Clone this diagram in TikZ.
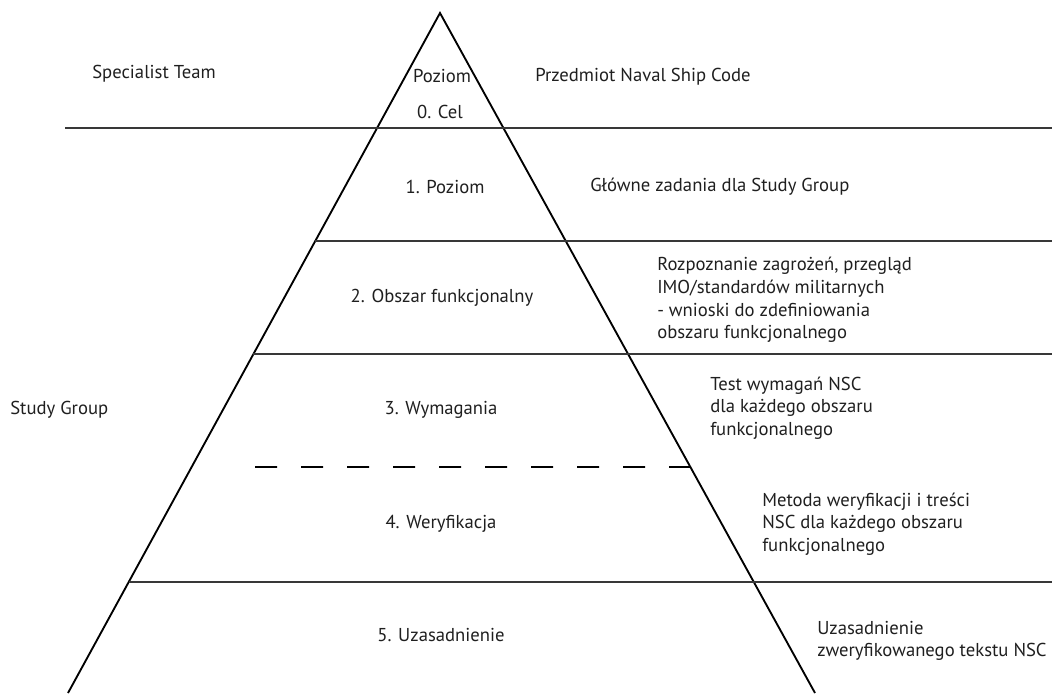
\documentclass[tikz,border=0pt]{standalone}
\usepackage{fontspec}
\setmainfont{PT Sans}
\usetikzlibrary{calc}
\begin{document}
\begin{tikzpicture}[x=0.75pt,y=-0.75pt,
  lbl/.style={inner sep=0pt, font=\fontsize{14}{17}\selectfont, text=black!88},
  lft/.style={lbl, anchor=west, align=left},
  ctr/.style={lbl, anchor=center},
  pedge/.style={line width=1.4pt, black},
  band/.style={line width=1.7pt, black!78},
  dashline/.style={line width=1.4pt, black, dash pattern=on 16.5pt off 18pt}]
\useasboundingbox (0,0) rectangle (1052,693);
\begin{scope}
\clip (0,0) rectangle (1052,693);
\coordinate (apex) at (440,13);
\coordinate (bl) at (68,693);
\coordinate (br) at (815,693);
\coordinate (l1) at ($(apex)!{(241-13)/680}!(bl)$);
\coordinate (l2) at ($(apex)!{(354-13)/680}!(bl)$);
\coordinate (l4) at ($(apex)!{(582-13)/680}!(bl)$);
\coordinate (rd) at ($(apex)!{(467-13)/680}!(br)$);
\coordinate (r0) at (1052,128);
\coordinate (s0) at (65,128);
\coordinate (d0) at (255,467);
\draw[pedge] (bl) -- (apex) -- (br);
\draw[band] (s0) -- (r0);
\draw[band] (l1) -- (l1 -| r0);
\draw[band] (l2) -- (l2 -| r0);
\draw[band] (l4) -- (l4 -| r0);
\draw[dashline] (d0) -- (rd);
\end{scope}
% left labels
\node[lft] (st) at (92,74) {Specialist Team};
\node[lft] (sg) at (10,410) {Study Group};
% pyramid labels
\node[ctr] (p0a) at (442,76) {Poziom};
\node[ctr] (p0b) at (440,112) {0. Cel};
\node[ctr] (p1) at (445,187) {1. Poziom};
\node[ctr] (p2) at (442,298) {2. Obszar funkcjonalny};
\node[ctr] (p3) at (441,410) {3. Wymagania};
\node[ctr] (p4) at (441,524) {4. Weryfikacja};
\node[ctr] (p5) at (441,635) {5. Uzasadnienie};
% right labels
\node[lft] (d0t) at (535,77) {Przedmiot Naval Ship Code};
\node[lft] (d1) at (590,187) {Główne zadania dla Study Group};
\node[lft] (d2) at (657,300) {Rozpoznanie zagrożeń, przegląd\\IMO/standardów militarnych\\- wnioski do zdefiniowania\\obszaru funkcjonalnego};
\node[lft] (d3) at (710,408) {Test wymagań NSC\\dla każdego obszaru\\funkcjonalnego};
\node[lft] (d4) at (762,524) {Metoda weryfikacji i treści\\NSC dla każdego obszaru\\funkcjonalnego};
\node[lft] (d5) at (817,641) {Uzasadnienie\\zweryfikowanego tekstu NSC};
\end{tikzpicture}
\end{document}
